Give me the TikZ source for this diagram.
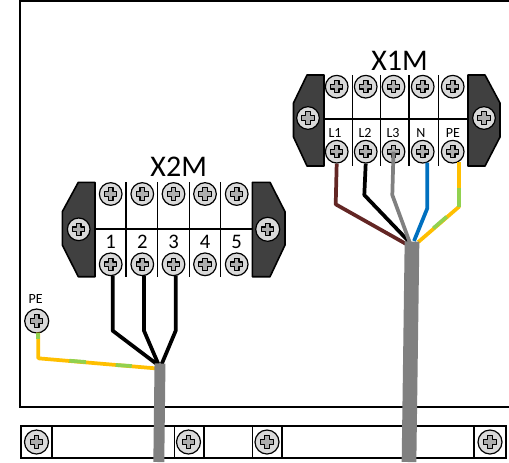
\documentclass[tikz,border=0pt]{standalone}
\usepackage{fontspec}
\setmainfont{Carlito}
\definecolor{wirebrown}{rgb}{0.39,0.15,0.14}
\definecolor{wiregray}{rgb}{0.5,0.5,0.5}
\definecolor{wireblue}{rgb}{0,0.44,0.75}
\definecolor{wireyellow}{rgb}{1,0.75,0}
\definecolor{wiregreen}{rgb}{0.57,0.82,0.31}
\definecolor{mountgray}{rgb}{0.25,0.25,0.25}
\definecolor{screwgray}{rgb}{0.85,0.85,0.85}
\definecolor{crossgray}{rgb}{0.68,0.68,0.68}
\tikzset{
  frameline/.style={line width=1.5pt,black},
  sepline/.style={line width=1.1pt,black},
  mount/.style={fill=mountgray,draw=black,line width=1.2pt,line join=round},
  wire/.style={line width=2.8pt,line join=round},
  cable/.style={line width=#1,wiregray},
  screw/.style={circle,draw=black,line width=0.9pt,fill=screwgray,inner sep=0pt,minimum size=#1,
    path picture={
      \draw[shift={(path picture bounding box.center)},fill=crossgray,line width=0.8pt,line join=round]
        (-2.3,-6.2) -- (2.3,-6.2) -- (2.3,-2.3) -- (6.2,-2.3) -- (6.2,2.3) -- (2.3,2.3) -- (2.3,6.2)
        -- (-2.3,6.2) -- (-2.3,2.3) -- (-6.2,2.3) -- (-6.2,-2.3) -- (-2.3,-2.3) -- cycle;
    }},
  screw/.default=17pt,
  smalltext/.style={inner sep=0pt,font=\fontsize{10.5}{12}\selectfont},
  digittext/.style={inner sep=0pt,font=\fontsize{15.5}{18}\selectfont},
  titletext/.style={inner sep=0pt,font=\fontsize{22.5}{26}\selectfont}
}
\begin{document}
\begin{tikzpicture}[x=0.75pt,y=0.75pt,yscale=-1,xscale=1]
\useasboundingbox (0,0) rectangle (509,462);

%Enclosure
\draw[frameline] (509,1) -- (19.5,1) -- (19.5,407) -- (509,407);

%Bottom strip
\draw[frameline] (21,426) rectangle (506,458);
\draw[sepline] (52,426) -- (52,458);
\draw[sepline] (174.5,426) -- (174.5,458);
\draw[sepline] (204,426) -- (204,458);
\draw[sepline] (252.5,426) -- (252.5,458);
\draw[sepline] (282,426) -- (282,458);
\draw[sepline] (474,426) -- (474,458);
\node[screw=18pt] (strip1) at (36.5,442) {};
\node[screw=18pt] (strip2) at (188.5,442) {};
\node[screw=18pt] (strip3) at (267,442) {};
\node[screw=18pt] (strip4) at (490,442) {};

%Terminal X1M
\draw[mount] (324,75) -- (307,75) -- (293.5,103) -- (293.5,137) -- (307,166) -- (324,166) -- cycle;
\draw[mount] (468,75) -- (485,75) -- (500,103) -- (500,137) -- (485,166) -- (468,166) -- cycle;
\draw[frameline] (324,119.3) -- (468,119.3);
\draw[sepline] (352.3,75) -- (352.3,166);
\draw[sepline] (380.7,75) -- (380.7,166);
\draw[sepline] (409,75) -- (409,166);
\draw[sepline] (438.3,75) -- (438.3,166);
\node[screw] (mleftA) at (308,118) {};
\node[screw] (mrightA) at (484,118) {};
\node[screw] (topA1) at (336.7,86.7) {};
\node[screw] (topA2) at (365.7,86.7) {};
\node[screw] (topA3) at (393.5,86.7) {};
\node[screw] (topA4) at (422.7,86.7) {};
\node[screw] (topA5) at (452.7,86.7) {};
\node[screw] (botA1) at (336.7,151.7) {};
\node[screw] (botA2) at (365.7,151.7) {};
\node[screw] (botA3) at (393.5,151.7) {};
\node[screw] (botA4) at (422.7,151.7) {};
\node[screw] (botA5) at (452.7,151.7) {};

%Terminal X2M
\draw[mount] (95,182.3) -- (78.3,182.3) -- (62.3,211.7) -- (62.3,245) -- (78.3,276.7) -- (95,276.7) -- cycle;
\draw[mount] (252.3,182.3) -- (270,182.3) -- (285,211.7) -- (285,245) -- (270,276.7) -- (252.3,276.7) -- cycle;
\draw[frameline] (95,229.3) -- (252.3,229.3);
\draw[sepline] (126,182.3) -- (126,276.7);
\draw[sepline] (157.7,182.3) -- (157.7,276.7);
\draw[sepline] (189.3,182.3) -- (189.3,276.7);
\draw[sepline] (220.7,182.3) -- (220.7,276.7);
\node[screw] (mleftB) at (78.7,229.3) {};
\node[screw=18pt] (mrightB) at (267.7,229.3) {};
\node[screw] (topB1) at (110.7,194) {};
\node[screw] (topB2) at (142.3,194) {};
\node[screw] (topB3) at (173.5,194) {};
\node[screw] (topB4) at (205,194) {};
\node[screw] (topB5) at (236.7,194) {};
\node[screw] (botB1) at (110.7,264.3) {};
\node[screw] (botB2) at (142.3,264.3) {};
\node[screw] (botB3) at (173.5,264.3) {};
\node[screw] (botB4) at (205,264.3) {};
\node[screw] (botB5) at (236.7,264.3) {};

%Earth screw
\node[screw=18pt] (earth) at (36.7,321) {};

%Bends and wire ends
\coordinate (bendA1) at (335.7,204.3);
\coordinate (bendA2) at (364.3,195);
\coordinate (bendA3) at (392.3,195);
\coordinate (bendA4) at (427.3,208.3);
\coordinate (bendA5) at (459,206.7);
\coordinate (endA1) at (406.7,244.3);
\coordinate (endA2) at (409.3,242);
\coordinate (endA3) at (410.7,245);
\coordinate (endA4) at (414,241);
\coordinate (endA5) at (418.3,242);
\coordinate (startA4) at (427.3,162.5);
\coordinate (startA5) at (459,162);
\coordinate (greenA1) at (459,188.3);
\coordinate (greenA2) at (446.7,216.7);
\coordinate (greenA3) at (433.3,228.3);
\coordinate (bendB1) at (112.7,330.7);
\coordinate (bendB2) at (144,330.7);
\coordinate (bendB3) at (175.7,330.7);
\coordinate (endB1) at (156.7,364);
\coordinate (endB2) at (158.3,364);
\coordinate (endB3) at (161.7,364);
\coordinate (startB1) at (112.7,275.5);
\coordinate (startB2) at (144,275.5);
\coordinate (startB3) at (175.7,275.5);
\coordinate (bendE) at (38.3,358.3);
\coordinate (startE) at (38.3,332.5);
\coordinate (greenE0) at (38.3,339.3);
\coordinate (greenE1) at (69.3,360.7);
\coordinate (greenE2) at (86,362);
\coordinate (greenE3) at (115.7,365);
\coordinate (greenE4) at (131.7,366);
\coordinate (endE) at (155,368.3);

%Wires X1M
\draw[wire,wirebrown] (botA1.south) -- (bendA1) -- (endA1);
\draw[wire,black] (botA2.south) -- (bendA2) -- (endA2);
\draw[wire,wiregray] (botA3.center) -- (bendA3) -- (endA3);
\draw[wire,wireblue] (startA4) -- (bendA4) -- (endA4);
\draw[wire,wireyellow] (startA5) -- (bendA5) -- (endA5);
\draw[wire,wiregreen] (greenA1) -- (bendA5);
\draw[wire,wiregreen] (greenA2) -- (greenA3);

%Wires X2M
\draw[wire,black] (startB1) -- (bendB1) -- (endB1);
\draw[wire,black] (startB2) -- (bendB2) -- (endB2);
\draw[wire,black] (startB3) -- (bendB3) -- (endB3);
\draw[wire,wireyellow] (startE) -- (bendE) -- (endE);
\draw[wire,wiregreen] (startE) -- (greenE0);
\draw[wire,wiregreen] (greenE1) -- (greenE2);
\draw[wire,wiregreen] (greenE3) -- (greenE4);

%Cables
\draw[cable=8.2pt] (160,363.5) -- (158.8,462);
\draw[cable=11pt] (412,241.5) -- (409,462);

% Text Node
\node[titletext] (titleA) at (399.5,60.7) {X1M};
% Text Node
\node[titletext] (titleB) at (178.7,166.7) {X2M};
% Text Node
\node[smalltext] (labA1) at (335,132.7) {L1};
% Text Node
\node[smalltext] (labA2) at (365,132.7) {L2};
% Text Node
\node[smalltext] (labA3) at (393,132.7) {L3};
% Text Node
\node[smalltext] (labA4) at (421,132.7) {N};
% Text Node
\node[smalltext] (labA5) at (453,132.7) {PE};
% Text Node
\node[digittext] (labB1) at (110.7,241.7) {1};
% Text Node
\node[digittext] (labB2) at (142.3,241.7) {2};
% Text Node
\node[digittext] (labB3) at (173.5,241.7) {3};
% Text Node
\node[digittext] (labB4) at (205,241.7) {4};
% Text Node
\node[digittext] (labB5) at (236.7,241.7) {5};
% Text Node
\node[smalltext] (labE) at (35.7,299.3) {PE};

\end{tikzpicture}
\end{document}
